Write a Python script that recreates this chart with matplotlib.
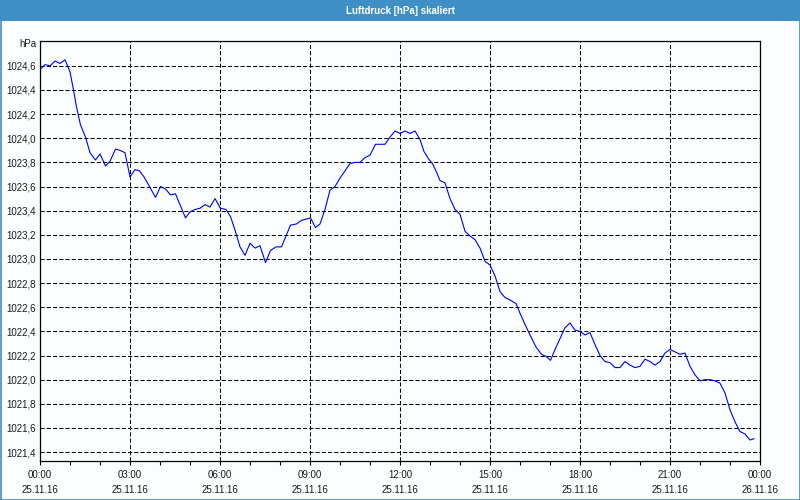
import numpy as np
import matplotlib
matplotlib.use("Agg")
from matplotlib import pyplot as plt
from matplotlib import patches

# minutes after 25.11.16 00:00
minutes = [0, 10, 20, 30, 40, 50, 60, 67, 73, 81, 91, 100, 111, 120, 131, 140, 151, 160, 170, 180,
           190, 199, 208, 219, 231, 241, 251, 261, 271, 280, 291, 300, 310, 320, 330, 340, 350, 361,
           372, 381, 390, 400, 410, 420, 430, 440, 451, 461, 472, 483, 492, 501, 513, 523, 532, 541,
           551, 560, 570, 580, 590, 600, 610, 620, 630, 640, 650, 660, 671, 680, 690, 700, 710, 720,
           730, 740, 750, 760, 768, 777, 785, 793, 800, 810, 820, 830, 840, 850, 860, 870, 880, 890,
           900, 910, 920, 930, 940, 952, 960, 972, 980, 992, 1003, 1013, 1021, 1030, 1040, 1050,
           1060, 1070, 1080, 1090, 1100, 1110, 1120, 1130, 1140, 1150, 1160, 1170, 1180, 1190, 1200,
           1210, 1220, 1230, 1240, 1250, 1260, 1270, 1280, 1290, 1300, 1310, 1320, 1330, 1340, 1350,
           1360, 1370, 1380, 1390, 1400, 1410, 1420, 1428]
pressure = [1024.57, 1024.61, 1024.60, 1024.64, 1024.62, 1024.65, 1024.55, 1024.40, 1024.26, 1024.11,
            1024.01, 1023.88, 1023.82, 1023.87, 1023.77, 1023.81, 1023.91, 1023.90, 1023.88, 1023.68,
            1023.74, 1023.73, 1023.68, 1023.60, 1023.51, 1023.60, 1023.58, 1023.53, 1023.54, 1023.45,
            1023.34, 1023.39, 1023.41, 1023.42, 1023.45, 1023.43, 1023.50, 1023.42, 1023.41, 1023.35,
            1023.24, 1023.10, 1023.03, 1023.13, 1023.09, 1023.11, 1022.97, 1023.07, 1023.10, 1023.10,
            1023.19, 1023.28, 1023.29, 1023.32, 1023.33, 1023.34, 1023.26, 1023.29, 1023.41, 1023.57,
            1023.60, 1023.67, 1023.73, 1023.79, 1023.80, 1023.80, 1023.84, 1023.86, 1023.95, 1023.95,
            1023.95, 1024.01, 1024.06, 1024.04, 1024.06, 1024.04, 1024.06, 1023.99, 1023.89, 1023.83,
            1023.79, 1023.72, 1023.65, 1023.63, 1023.50, 1023.41, 1023.37, 1023.23, 1023.19, 1023.16,
            1023.09, 1022.98, 1022.95, 1022.86, 1022.73, 1022.68, 1022.66, 1022.63, 1022.55, 1022.44,
            1022.37, 1022.27, 1022.21, 1022.19, 1022.16, 1022.25, 1022.34, 1022.43, 1022.47, 1022.41,
            1022.40, 1022.37, 1022.39, 1022.29, 1022.20, 1022.15, 1022.14, 1022.10, 1022.10, 1022.15,
            1022.12, 1022.10, 1022.11, 1022.17, 1022.15, 1022.12, 1022.15, 1022.22, 1022.25, 1022.23,
            1022.21, 1022.22, 1022.11, 1022.04, 1021.99, 1022.00, 1022.00, 1021.99, 1021.97, 1021.89,
            1021.75, 1021.65, 1021.57, 1021.55, 1021.50, 1021.51]

x_ticks = [0, 3, 6, 9, 12, 15, 18, 21, 24]
x_labels = ["00:00\n25.11.16", "03:00\n25.11.16", "06:00\n25.11.16", "09:00\n25.11.16",
            "12:00\n25.11.16", "15:00\n25.11.16", "18:00\n25.11.16", "21:00\n25.11.16",
            "00:00\n26.11.16"]
y_ticks = [1021.4, 1021.6, 1021.8, 1022.0, 1022.2, 1022.4, 1022.6, 1022.8, 1023.0,
           1023.2, 1023.4, 1023.6, 1023.8, 1024.0, 1024.2, 1024.4, 1024.6]

plt.rcParams['font.family'] = ['Liberation Sans', 'DejaVu Sans']
text_col = '#1a1a1a'
blue = '#3d8fc6'

fig = plt.figure(figsize=(8, 5), dpi=100, facecolor='#fbfefe')

# title bar and frame
fig.add_artist(patches.Rectangle((0, 1 - 21 / 500), 1, 21 / 500, transform=fig.transFigure,
                                 facecolor=blue, edgecolor='none'))
fig.add_artist(patches.Rectangle((0.5 / 800, 0.5 / 500), 1 - 1 / 800, 1 - 1 / 500,
                                 transform=fig.transFigure, facecolor='none',
                                 edgecolor=blue, linewidth=1.2))
fig.text(0.5, 1 - 10.5 / 500, 'Luftdruck [hPa] skaliert', ha='center', va='center',
         color='white', fontsize=7, weight='bold')

ax = fig.add_axes([40 / 800, 1 - 460.5 / 500, 720 / 800, 420 / 500])
ax.set_facecolor('#fbfefe')
hours = np.array(minutes) / 60.0
ax.plot(hours, pressure, color='#0000f0', linewidth=0.8)

ax.set_xlim(0, 24)
ax.set_ylim(1021.33, 1024.81)
ax.set_xticks(x_ticks)
ax.set_xticklabels(x_labels, linespacing=1.65)
ax.set_xticks(range(0, 25), minor=True)
ax.set_yticks(y_ticks)
ax.set_yticklabels([f"{v:.1f}".replace('.', ',') for v in y_ticks])

ax.tick_params(axis='x', which='both', direction='out', length=3, width=0.8,
               colors='black', labelcolor=text_col, labelsize=7, pad=4)
ax.tick_params(axis='y', length=0, labelcolor=text_col, labelsize=7, pad=3)

ax.grid(True, which='major', color='black', linestyle=(0, (4, 2)), linewidth=0.75)
for s in ax.spines.values():
    s.set_color('black')
    s.set_linewidth(0.9)

fig.text(37 / 800, 1 - 44 / 500, 'hPa', ha='right', va='center', color=text_col, fontsize=7)

fig.savefig('out.png', dpi=100, facecolor=fig.get_facecolor())
